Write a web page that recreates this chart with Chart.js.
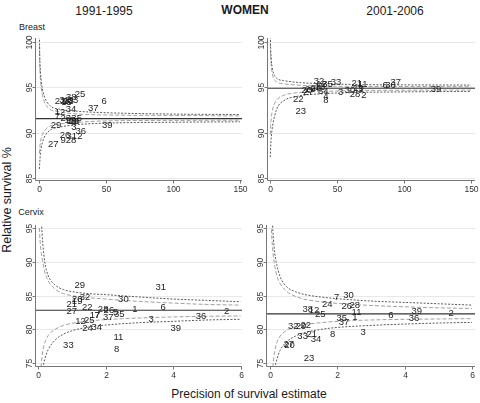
<!DOCTYPE html>
<html><head><meta charset="utf-8">
<script src="https://cdn.jsdelivr.net/npm/chart.js@4"></script>
<style>
body{margin:0;width:480px;height:403px;background:#fff;position:relative;overflow:hidden;font-family:"Liberation Sans",Arial,sans-serif;color:#1a1a1a}
canvas{position:absolute;left:0;top:0}
.t{position:absolute;white-space:nowrap;transform:translate(-50%,-50%)}
</style></head><body>
<div class="t" style="left:104px;top:11px;font-size:12px">1991-1995</div>
<div class="t" style="left:245px;top:10px;font-size:12px;font-weight:bold">WOMEN</div>
<div class="t" style="left:395px;top:11px;font-size:12px">2001-2006</div>
<div class="t" style="left:32px;top:27px;font-size:9px">Breast</div>
<div class="t" style="left:31px;top:212px;font-size:9px">Cervix</div>
<div class="t" style="left:7px;top:200px;font-size:12.5px;transform:translate(-50%,-50%) rotate(-90deg)">Relative survival %</div>
<div class="t" style="left:249px;top:394px;font-size:12px">Precision of survival estimate</div>
<canvas id="tl" width="480" height="403"></canvas>
<canvas id="tr" width="480" height="403"></canvas>
<canvas id="bl" width="480" height="403"></canvas>
<canvas id="br" width="480" height="403"></canvas>
<script>
// ---------- tick labels ----------
const topXTicks = [0, 50, 100, 150];
const botXTicks = [0, 2, 4, 6];
const topYTicks = [85, 90, 95, 100];
const botYTicks = [75, 80, 85, 90, 95];

// ---------- Breast 1991-1995 ----------
const tlMean = 91.55;
const tlPrec = [0.3, 0.6, 1, 2, 4, 8, 15, 30, 50, 100, 150];
const tlUp99 = [101, 98.2, 96.9, 95.3, 94.0, 93.0, 92.6, 92.35, 92.2, 92.05, 92.0];
const tlUp95 = [99.6, 97.4, 96.0, 94.6, 93.4, 92.6, 92.3, 92.05, 91.95, 91.9, 91.85];
const tlLo95 = [87.7, 88.3, 88.9, 89.6, 90.2, 90.7, 90.95, 91.15, 91.3, 91.35, 91.38];
const tlLo99 = [86.0, 86.8, 87.6, 88.6, 89.5, 90.25, 90.6, 90.9, 91.05, 91.15, 91.2];
const tlLabels = ["25","6","37","34","22","32","20","33","38","15","18","12","7","23","35","19","16","10","17","29","39","3","36","26","31","2","9","28","27"];
const tlX = [30.6, 48.7, 40.5, 23.9, 15.7, 19.0, 21.5, 25.3, 24.0, 20.5, 22.0, 15.7, 13.7, 19.9, 28.1, 24.5, 26.5, 25.5, 23.0, 12.7, 51.0, 26.1, 31.1, 19.4, 24.4, 30.6, 18.1, 23.9, 10.7];
const tlY = [94.27, 93.5, 92.7, 92.6, 93.5, 93.55, 93.45, 93.55, 93.9, 93.35, 93.5, 92.25, 91.8, 91.6, 91.55, 91.25, 91.2, 91.3, 91.4, 90.75, 90.77, 90.55, 90.19, 89.75, 89.6, 89.6, 89.1, 89.1, 88.7];

// ---------- Breast 2001-2006 ----------
const trMean = 94.9;
const trPrec = [0.2, 0.5, 1, 2, 5, 10, 20, 40, 70, 100, 150];
const trUp99 = [101, 99.3, 98.0, 96.9, 96.0, 95.75, 95.55, 95.4, 95.3, 95.27, 95.25];
const trUp95 = [99.8, 98.5, 97.3, 96.3, 95.6, 95.4, 95.25, 95.15, 95.1, 95.09, 95.08];
const trLo95 = [89.8, 90.8, 91.7, 92.6, 93.6, 94.1, 94.4, 94.55, 94.65, 94.68, 94.7];
const trLo99 = [87.3, 88.4, 89.6, 90.8, 92.6, 93.5, 94.0, 94.3, 94.45, 94.5, 94.55];
const trLabels = ["32","33","12","35","20","29","26","18","27","34","3","30","21","11","19","1","28","2","6","36","37","39","22","23","4","8"];
const trX = [36.6, 49.3, 38.5, 43.0, 27.4, 30.0, 34.3, 37.3, 28.6, 39.8, 52.7, 59.7, 64.7, 69.2, 66.0, 68.0, 63.4, 70.1, 86.0, 90.0, 93.8, 123.9, 21.1, 22.9, 41.8, 41.8];
const trY = [95.7, 95.56, 95.35, 95.3, 94.7, 94.75, 94.9, 95.0, 94.45, 94.5, 94.45, 94.7, 95.4, 95.3, 94.9, 94.75, 94.2, 94.1, 95.25, 95.25, 95.6, 94.8, 93.7, 92.4, 93.95, 93.6];

// ---------- Cervix 1991-1995 ----------
const blMean = 82.85;
const blPrec = [0.04, 0.07, 0.1, 0.14, 0.2, 0.3, 0.5, 0.75, 1, 1.5, 2, 3, 4, 5, 6];
const blUp99 = [104, 99, 96, 92.8, 90.0, 88.0, 86.6, 85.9, 85.6, 85.3, 85.15, 84.8, 84.5, 84.3, 84.1];
const blUp95 = [95, 92.5, 91.2, 90.0, 88.5, 87.2, 86.0, 85.3, 85.0, 84.7, 84.5, 84.15, 83.9, 83.7, 83.6];
const blLo95 = [70, 73, 75.0, 76.8, 78.0, 79.1, 80.0, 80.6, 80.9, 81.25, 81.45, 81.7, 81.85, 81.95, 82.0];
const blLo99 = [66, 70, 72.5, 74.2, 75.6, 77.0, 78.4, 79.3, 79.8, 80.35, 80.65, 81.0, 81.2, 81.4, 81.5];
const blLabels = ["29","31","32","30","20","19","21","27","22","28","26","5","35","1","6","2","17","7","37","36","3","12","25","24","34","39","11","33","8"];
const blX = [1.24, 3.64, 1.39, 2.53, 1.16, 1.16, 1.0, 1.0, 1.46, 1.93, 2.1, 2.3, 2.41, 2.87, 3.71, 5.59, 1.69, 1.75, 2.08, 4.83, 3.35, 1.26, 1.52, 1.47, 1.74, 4.08, 2.38, 0.9, 2.33];
const blY = [86.55, 86.2, 84.8, 84.5, 84.4, 84.1, 83.7, 82.7, 83.2, 82.9, 82.75, 82.5, 82.25, 83.0, 83.2, 82.6, 82.15, 82.05, 81.85, 81.9, 81.5, 81.2, 81.35, 80.15, 80.3, 80.2, 78.8, 77.7, 77.1];

// ---------- Cervix 2001-2006 ----------
const brMean = 82.3;
const brPrec = [0.04, 0.07, 0.1, 0.14, 0.2, 0.3, 0.5, 0.75, 1, 1.5, 2, 3, 4, 5, 6];
const brUp99 = [100, 96, 93.5, 91.3, 89.6, 87.8, 86.3, 85.6, 85.2, 84.8, 84.55, 84.2, 84.0, 83.8, 83.6];
const brUp95 = [94.8, 92.4, 90.8, 89.4, 88.0, 86.8, 85.6, 84.9, 84.5, 84.1, 83.85, 83.55, 83.35, 83.2, 83.1];
const brLo95 = [70, 73.5, 75.2, 76.8, 78.0, 79.0, 79.9, 80.4, 80.7, 81.0, 81.2, 81.4, 81.5, 81.55, 81.6];
const brLo99 = [66, 70, 72.5, 74.2, 75.5, 76.9, 78.2, 79.0, 79.5, 80.0, 80.3, 80.6, 80.8, 80.95, 81.05];
const brLabels = ["7","30","24","26","28","38","12","25","11","1","6","39","2","36","35","37","32","29","22","33","21","34","8","3","27","20","23"];
const brX = [1.98, 2.33, 1.70, 2.28, 2.52, 1.12, 1.31, 1.49, 2.57, 2.52, 3.59, 4.36, 5.38, 4.28, 2.13, 2.2, 0.69, 0.92, 1.06, 0.97, 1.24, 1.37, 1.86, 2.77, 0.56, 0.58, 1.16];
const brY = [84.8, 85.1, 83.7, 83.4, 83.6, 83.0, 82.75, 82.2, 82.5, 81.85, 82.1, 82.7, 82.45, 81.6, 81.6, 81.1, 80.4, 80.5, 80.6, 79.0, 79.3, 78.5, 79.25, 79.5, 77.75, 77.6, 75.8];

// ---------- panel layout ----------
const panels = [
  {id:'tl', pad:{left:35,top:38,right:238,bottom:223}, xMin:-2.99, xMax:151.5, yMin:84.78, yMax:100.44,
   prec:tlPrec, up99:tlUp99, up95:tlUp95, lo95:tlLo95, lo99:tlLo99, mean:tlMean, lt:tlLabels, lx:tlX, ly:tlY, xt:topXTicks, yt:topYTicks},
  {id:'tr', pad:{left:267,top:38,right:5,bottom:223}, xMin:-2.24, xMax:153, yMin:84.78, yMax:100.44,
   prec:trPrec, up99:trUp99, up95:trUp95, lo95:trLo95, lo99:trLo99, mean:trMean, lt:trLabels, lx:trX, ly:trY, xt:topXTicks, yt:topYTicks},
  {id:'bl', pad:{left:35,top:225,right:238,bottom:37}, xMin:-0.089, xMax:6.044, yMin:74.6, yMax:95.44,
   prec:blPrec, up99:blUp99, up95:blUp95, lo95:blLo95, lo99:blLo99, mean:blMean, lt:blLabels, lx:blX, ly:blY, xt:botXTicks, yt:botYTicks},
  {id:'br', pad:{left:266,top:225,right:5,bottom:37}, xMin:-0.119, xMax:6.09, yMin:74.6, yMax:95.44,
   prec:brPrec, up99:brUp99, up95:brUp95, lo95:brLo95, lo99:brLo99, mean:brMean, lt:brLabels, lx:brX, ly:brY, xt:botXTicks, yt:botYTicks}
];

const FONT = '"Liberation Sans", Arial, sans-serif';

const stataPlugin = {
  id: 'stata',
  beforeDatasetsDraw(chart, args, o) {
    const {ctx, chartArea:a, scales:{x, y}} = chart;
    ctx.save();
    ctx.strokeStyle = '#e9e9e9'; ctx.lineWidth = 1;
    o.yt.forEach(v => {
      const py = Math.round(y.getPixelForValue(v)) + 0.5;
      ctx.beginPath(); ctx.moveTo(a.left, py); ctx.lineTo(a.right, py); ctx.stroke();
    });
    ctx.restore();
  },
  afterDatasetsDraw(chart, args, o) {
    const {ctx, chartArea:a, scales:{x, y}} = chart;
    ctx.save();
    // axis lines
    ctx.strokeStyle = '#777'; ctx.lineWidth = 1;
    const ax = Math.round(a.left) + 0.5, ay = Math.round(a.bottom) + 0.5;
    ctx.beginPath(); ctx.moveTo(ax, a.top); ctx.lineTo(ax, ay); ctx.lineTo(a.right, ay); ctx.stroke();
    ctx.fillStyle = '#333';
    ctx.font = '8.5px ' + FONT;
    // x ticks
    ctx.textAlign = 'center'; ctx.textBaseline = 'top';
    o.xt.forEach(v => {
      const px = Math.round(x.getPixelForValue(v)) + 0.5;
      ctx.beginPath(); ctx.moveTo(px, ay); ctx.lineTo(px, ay + 3); ctx.stroke();
      ctx.fillText(String(v), px, ay + 4.5);
    });
    // y ticks (rotated labels)
    o.yt.forEach(v => {
      const py = Math.round(y.getPixelForValue(v)) + 0.5;
      ctx.beginPath(); ctx.moveTo(ax, py); ctx.lineTo(ax - 3, py); ctx.stroke();
      ctx.save();
      ctx.translate(ax - 4, py);
      ctx.rotate(-Math.PI / 2);
      ctx.textAlign = 'center'; ctx.textBaseline = 'alphabetic';
      ctx.fillText(String(v), 0, 0);
      ctx.restore();
    });
    // marker labels
    const meta = chart.getDatasetMeta(5);
    ctx.fillStyle = '#1e1e1e';
    ctx.font = '9.5px ' + FONT;
    ctx.textAlign = 'center'; ctx.textBaseline = 'middle';
    meta.data.forEach((pt, i) => {
      ctx.fillText(o.lt[i], pt.x, pt.y);
    });
    ctx.restore();
  }
};

function curve(xs, ys) { return xs.map((v, i) => ({x: v, y: ys[i]})); }

panels.forEach(p => {
  const lineDs = (data, color, dash) => ({
    data, showLine: true, borderColor: color, borderWidth: 1, borderDash: dash,
    pointRadius: 0, pointHoverRadius: 0, fill: false, cubicInterpolationMode: 'monotone'
  });
  new Chart(document.getElementById(p.id), {
    type: 'scatter',
    data: {
      datasets: [
        {data: [{x: p.xMin, y: p.mean}, {x: p.xMax, y: p.mean}], showLine: true, borderColor: '#333', borderWidth: 1.1, pointRadius: 0},
        lineDs(curve(p.prec, p.up99), '#5a5a5a', [2, 1.5]),
        lineDs(curve(p.prec, p.up95), '#a0a0a0', [4, 2]),
        lineDs(curve(p.prec, p.lo95), '#a0a0a0', [4, 2]),
        lineDs(curve(p.prec, p.lo99), '#5a5a5a', [2, 1.5]),
        {data: curve(p.lx, p.ly), pointRadius: 0, pointHoverRadius: 0, showLine: false}
      ]
    },
    options: {
      responsive: false, animation: false, events: [],
      layout: {padding: p.pad},
      plugins: {legend: {display: false}, tooltip: {enabled: false}, stata: {xt: p.xt, yt: p.yt, lt: p.lt}},
      scales: {
        x: {type: 'linear', min: p.xMin, max: p.xMax, display: false},
        y: {type: 'linear', min: p.yMin, max: p.yMax, display: false}
      }
    },
    plugins: [stataPlugin]
  });
});
</script>
</body></html>
